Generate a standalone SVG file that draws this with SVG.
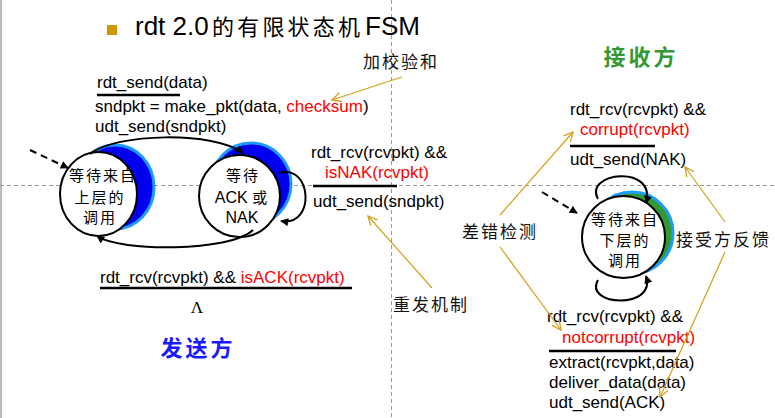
<svg xmlns="http://www.w3.org/2000/svg" width="775" height="418" viewBox="0 0 775 418">
<defs>
<style>
.t{font-family:"Liberation Sans",Arial,sans-serif;font-size:17px;fill:#000}
.r{fill:#ff0000}
.cn{font-family:"Noto Sans CJK SC",sans-serif;font-size:15px;fill:#000;letter-spacing:2px}
.note{font-family:"Noto Sans CJK SC",sans-serif;font-size:17px;fill:#111;letter-spacing:2px}
.edge{fill:none;stroke:#000;stroke-width:2}
.dash{fill:none;stroke:#000;stroke-width:2;stroke-dasharray:7 5}
.gold{fill:none;stroke:#d4a017;stroke-width:1.2}
.bar{stroke:#000;stroke-width:2.5}
.grid{stroke:#999;stroke-width:1;stroke-dasharray:4 3}
.node{fill:#fff;stroke:#000;stroke-width:2}
.shb{fill:#0000ee;stroke:#1e9bff;stroke-width:3}
.shg{fill:#339933;stroke:#1e9bff;stroke-width:3}
</style>
<marker id="ah" viewBox="0 0 10 10" refX="9" refY="5" markerWidth="9" markerHeight="8" markerUnits="userSpaceOnUse" orient="auto">
<path d="M0,0 L10,5 L0,10 z" fill="#000"/>
</marker>
<marker id="gh" viewBox="0 0 12 12" refX="11" refY="6" markerWidth="11" markerHeight="11" markerUnits="userSpaceOnUse" orient="auto">
<path d="M1,1 L11,6 L1,11" fill="none" stroke="#d4a017" stroke-width="1.4"/>
</marker>
</defs>
<rect width="775" height="418" fill="#fff"/>
<line x1="1" y1="0" x2="1" y2="418" stroke="#bbb" stroke-width="2"/>
<g id="grid">
<line class="grid" x1="0" y1="185.5" x2="775" y2="185.5"/>
<line class="grid" x1="391.5" y1="0" x2="391.5" y2="418"/>
</g>
<g id="title">
<rect x="107" y="25" width="10" height="10" fill="#cc9900"/>
<text x="135" y="35" font-family="Liberation Sans,Arial,sans-serif" font-size="26" fill="#000">rdt 2.0</text>
<text x="212" y="35" font-family="Noto Sans CJK SC,sans-serif" font-size="22" letter-spacing="3.2" fill="#000">的有限状态机</text>
<text x="365" y="35" font-family="Liberation Sans,Arial,sans-serif" font-size="26" fill="#000">FSM</text>
</g>
<g id="node-wait-above">
<ellipse class="shb" cx="115" cy="187" rx="39" ry="42"/>
<ellipse class="node" cx="98.5" cy="194" rx="38.5" ry="42"/>
<text class="cn" x="103" y="181" text-anchor="middle">等待来自</text>
<text class="cn" x="100" y="203" text-anchor="middle">上层的</text>
<text class="cn" x="100" y="223" text-anchor="middle">调用</text>
</g>
<g id="node-wait-ack">
<ellipse class="shb" cx="251" cy="184" rx="40" ry="41"/>
<ellipse class="node" cx="239.5" cy="196" rx="40.5" ry="41"/>
<text class="cn" x="243" y="181" text-anchor="middle">等待</text>
<text x="241" y="203" text-anchor="middle"><tspan class="t" style="font-size:16px">ACK </tspan><tspan class="cn" style="letter-spacing:0">或</tspan></text>
<text class="t" x="242" y="223" text-anchor="middle" style="font-size:16px">NAK</text>
</g>
<g id="node-wait-below">
<ellipse class="shg" cx="632" cy="233" rx="41" ry="41"/>
<ellipse class="node" cx="623.5" cy="237" rx="41.5" ry="41"/>
<text class="cn" x="625" y="225" text-anchor="middle">等待来自</text>
<text class="cn" x="625" y="246" text-anchor="middle">下层的</text>
<text class="cn" x="625" y="266" text-anchor="middle">调用</text>
</g>
<g id="connectors">
<line class="dash" x1="30" y1="150" x2="68" y2="168" marker-end="url(#ah)"/>
<path class="edge" d="M90,154 C115,133 215,131 243,153" marker-end="url(#ah)"/>
<path class="edge" d="M253,230 C230,252 120,252 97,236" marker-end="url(#ah)"/>
<path class="edge" d="M279,173 C312,163 316,227 281,221" marker-end="url(#ah)"/>
<line class="dash" x1="542" y1="192" x2="577" y2="213" marker-end="url(#ah)"/>
<path class="edge" d="M598,199 C583,172 657,164 646,203" marker-end="url(#ah)"/>
<path class="edge" d="M598,280 C583,306 657,310 646,276" marker-end="url(#ah)"/>
</g>
<g id="sender-labels">
<text class="t" x="97" y="88">rdt_send(data)</text>
<line class="bar" x1="97" y1="95" x2="180" y2="95"/>
<text class="t" x="95" y="112">sndpkt = make_pkt(data, <tspan class="r">checksum</tspan>)</text>
<text class="t" x="95" y="132">udt_send(sndpkt)</text>
<text class="t" x="311" y="158">rdt_rcv(rcvpkt) &amp;&amp;</text>
<text class="t r" x="325" y="178">isNAK(rcvpkt)</text>
<line class="bar" x1="313" y1="186" x2="397" y2="186"/>
<text class="t" x="313" y="207">udt_send(sndpkt)</text>
<text class="t" x="100" y="283">rdt_rcv(rcvpkt) &amp;&amp; <tspan class="r">isACK(rcvpkt)</tspan></text>
<line class="bar" x1="100" y1="288" x2="352" y2="288"/>
<text x="197" y="313" text-anchor="middle" font-family="Liberation Serif,serif" font-size="17" fill="#000">Λ</text>
<text x="198" y="356" text-anchor="middle" font-family="Noto Sans CJK SC,sans-serif" font-size="22" font-weight="bold" letter-spacing="3" fill="#1a1aff">发送方</text>
</g>
<g id="receiver-labels">
<text x="641" y="65" text-anchor="middle" font-family="Noto Sans CJK SC,sans-serif" font-size="22" font-weight="bold" letter-spacing="3" fill="#339933">接收方</text>
<text class="t" x="570" y="115">rdt_rcv(rcvpkt) &amp;&amp;</text>
<text class="t r" x="580" y="135">corrupt(rcvpkt)</text>
<line class="bar" x1="570" y1="146" x2="655" y2="146"/>
<text class="t" x="570" y="165">udt_send(NAK)</text>
<text class="t" x="547" y="322">rdt_rcv(rcvpkt) &amp;&amp;</text>
<text class="t r" x="562" y="343">notcorrupt(rcvpkt)</text>
<line class="bar" x1="549" y1="351" x2="676" y2="351"/>
<text class="t" x="549" y="368">extract(rcvpkt,data)</text>
<text class="t" x="549" y="388">deliver_data(data)</text>
<text class="t" x="549" y="408">udt_send(ACK)</text>
</g>
<g id="annotations">
<text class="note" x="363" y="68">加校验和</text>
<text class="note" x="393" y="311">重发机制</text>
<text class="note" x="462" y="238">差错检测</text>
<text class="note" x="676" y="246">接受方反馈</text>
<line class="gold" x1="402" y1="77" x2="332" y2="100" marker-end="url(#gh)"/>
<line class="gold" x1="432" y1="288" x2="368" y2="216" marker-end="url(#gh)"/>
<line class="gold" x1="500" y1="215" x2="573" y2="132" marker-end="url(#gh)"/>
<line class="gold" x1="500" y1="247" x2="561" y2="330" marker-end="url(#gh)"/>
<line class="gold" x1="725" y1="222" x2="685" y2="167" marker-end="url(#gh)"/>
<line class="gold" x1="725" y1="252" x2="660" y2="397" marker-end="url(#gh)"/>
</g>
</svg>
